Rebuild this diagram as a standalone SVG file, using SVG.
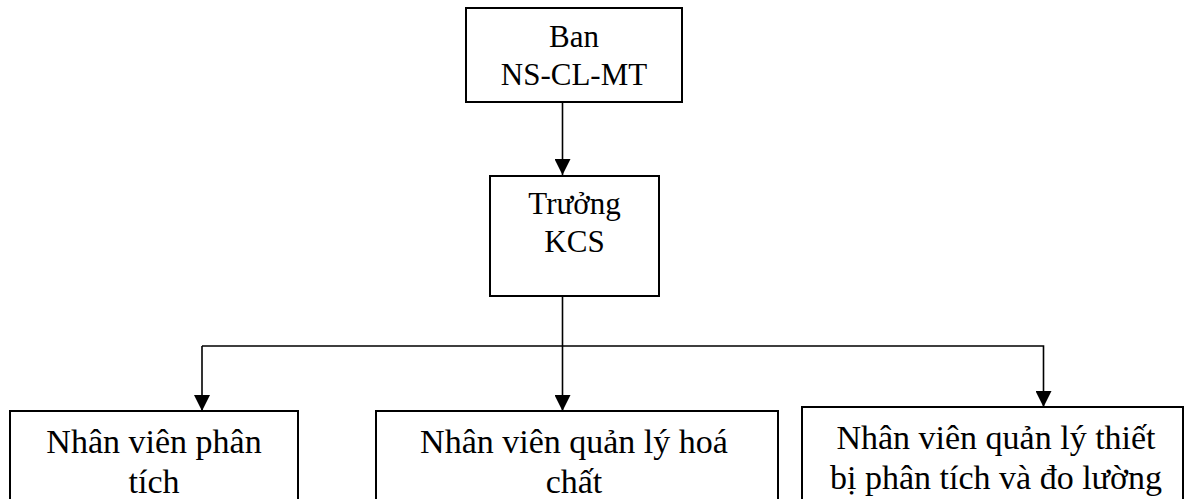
<svg xmlns="http://www.w3.org/2000/svg" width="1186" height="499" viewBox="0 0 1186 499">
<defs>
<style>
.box{fill:#fff;stroke:#000;stroke-width:2}
.t{font-family:"Liberation Serif","Times New Roman",serif;fill:#000;text-anchor:middle}
.s{font-size:31px}
.b{font-size:34px}
.c{fill:none;stroke:#000;stroke-width:1.6}
</style>
<marker id="ah" markerWidth="16" markerHeight="16" viewBox="0 0 16 16" refX="16" refY="8" orient="auto" markerUnits="userSpaceOnUse">
<path d="M0,0 L16,8 L0,16 Z" fill="#000"/>
</marker>
</defs>
<rect width="1186" height="499" fill="#fff"/>
<g id="connectors">
<line class="c" x1="562.5" y1="102" x2="562.5" y2="175" marker-end="url(#ah)"/>
<line class="c" x1="562.5" y1="296" x2="562.5" y2="411" marker-end="url(#ah)"/>
<polyline class="c" points="202,346 1043.5,346 1043.5,407" marker-end="url(#ah)"/>
<line class="c" x1="202" y1="346" x2="202" y2="411" marker-end="url(#ah)"/>
</g>
<g id="ban">
<rect class="box" x="466" y="8" width="216" height="94"/>
<text class="t s" x="574" y="47">Ban</text>
<text class="t s" x="574" y="85">NS-CL-MT</text>
</g>
<g id="truong">
<rect class="box" x="490" y="176" width="169" height="120"/>
<text class="t s" x="574.5" y="214">Trưởng</text>
<text class="t s" x="574.5" y="252">KCS</text>
</g>
<g id="nv-phantich">
<rect class="box" x="10" y="411" width="288" height="110"/>
<text class="t b" x="154" y="453">Nhân viên phân</text>
<text class="t b" x="154" y="493">tích</text>
</g>
<g id="nv-hoachat">
<rect class="box" x="376" y="411" width="402" height="110"/>
<text class="t b" x="574" y="453">Nhân viên quản lý hoá</text>
<text class="t b" x="574" y="493">chất</text>
</g>
<g id="nv-thietbi">
<rect class="box" x="802" y="407" width="381" height="114"/>
<text class="t b" x="996" y="449">Nhân viên quản lý thiết</text>
<text class="t b" x="996" y="489">bị phân tích và đo lường</text>
</g>
</svg>
